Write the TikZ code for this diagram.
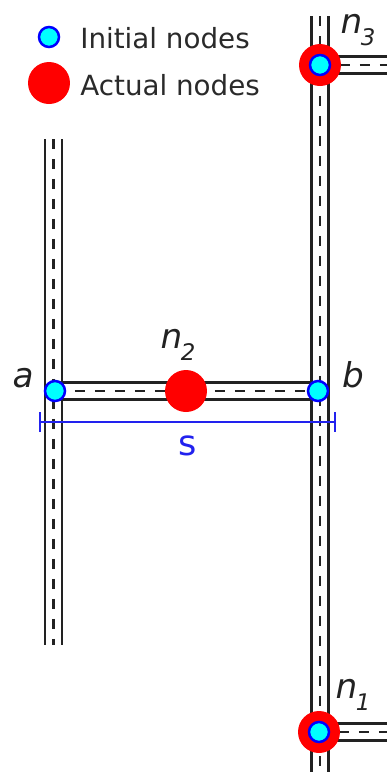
\documentclass[tikz,border=0pt]{standalone}
\usepackage{xcolor}
\usepackage{fontspec}
\setmainfont{DejaVu Sans}
\usetikzlibrary{arrows.meta, positioning, backgrounds}
\definecolor{roadGray}{HTML}{222222}
\definecolor{legendText}{HTML}{2A2A2A}
\definecolor{nodeCyan}{HTML}{00FFFF}
\definecolor{nodeBlue}{HTML}{0000FF}
\definecolor{nodeRed}{HTML}{FF0000}
\definecolor{spanBlue}{HTML}{2222EE}
\newcommand{\nodelabel}[1]{{\itshape n\kern-0.04em\raisebox{-0.6ex}{\fontsize{13}{13}\selectfont #1}}}

\begin{document}
\begin{tikzpicture}[
    x=0.02cm, y=-0.02cm,
    every node/.style={font=\fontsize{19.5}{24}\selectfont\itshape, text=roadGray},
    initialnode/.style={
        circle, draw=nodeBlue, fill=nodeCyan, line width=0.05cm,
        minimum size=0.4cm, inner sep=0pt, outer sep=0pt
    },
    actualnode/.style={
        circle, fill=nodeRed, minimum size=0.84cm, inner sep=0pt, outer sep=0pt
    },
    legendlabel/.style={font=\fontsize{15.8}{18}\selectfont, text=legendText, inner sep=0pt},
    roadedge/.style={draw=roadGray, line width=0.055cm, double=white, double distance=0.29cm},
    roadmark/.style={draw=roadGray, line width=0.05cm, dash pattern=on 0.2cm off 0.2cm},
    spanbar/.style={draw=spanBlue, line width=0.05cm, {Bar[width=0.4cm]}-{Bar[width=0.4cm]}},
]
    \useasboundingbox (0,0) rectangle (387,772);

    % legend
    \node[initialnode] (legendInitial) at (49,37) {};
    \node[actualnode] (legendActual) at (49,83) {};
    \node[legendlabel, anchor=west] (legendInitialText) at (80,38) {Initial nodes};
    \node[legendlabel, anchor=west] (legendActualText) at (80,85) {Actual nodes};

    % road ends
    \coordinate (leftTop) at (53.5,139);
    \coordinate (leftBottom) at (53.5,645);
    \coordinate (rightTop) at (320,16);
    \coordinate (rightBottom) at (320,772);
    \coordinate (thirdEnd) at (387,65);
    \coordinate (firstEnd) at (387,732);

    % nodes
    \node[actualnode] (n2) at (186,391) {};
    \node[actualnode] (n3) at (320,65) {};
    \node[actualnode] (n1) at (319,732) {};
    \node[initialnode] (a) at (55,391) {};
    \node[initialnode] (b) at (318,391) {};
    \node[initialnode] (n3init) at (320,65) {};
    \node[initialnode] (n1init) at (319,732) {};

    % labels
    \node (aLabel) at (23,378) {a};
    \node (bLabel) at (353,375) {b};
    \node (n2Label) at (178,345) {\nodelabel{2}};
    \node (n3Label) at (358,30) {\nodelabel{3}};
    \node (n1Label) at (353,695) {\nodelabel{1}};

    % span
    \coordinate (spanLeft) at (39,422);
    \coordinate (spanRight) at (336,422);
    \draw[spanbar] (spanLeft) -- (spanRight);
    \node[text=spanBlue, font=\fontsize{20}{24}\selectfont] (spanLabel) at (188,446) {s};

    \begin{scope}[on background layer]
        \foreach \from/\to in {leftTop/leftBottom, rightTop/rightBottom, a/b, n3/thirdEnd, n1/firstEnd} {
            \draw[roadedge] (\from.center) -- (\to.center);
            \draw[roadmark] (\from.center) -- (\to.center);
        }
    \end{scope}
\end{tikzpicture}
\end{document}
